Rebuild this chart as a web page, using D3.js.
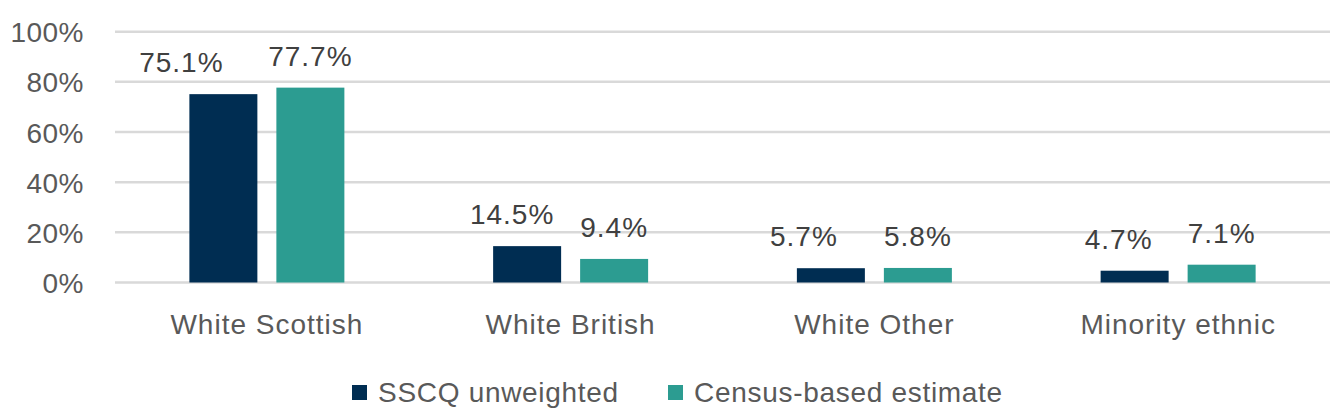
<!DOCTYPE html>
<html><head><meta charset="utf-8">
<script src="https://cdn.jsdelivr.net/npm/d3@7"></script>
<style>body{margin:0;background:#fff}svg{display:block}text{font-family:"Liberation Sans",Arial,sans-serif}</style>
</head><body><div id="chart"></div>
<script>
const categories = ["White Scottish", "White British", "White Other", "Minority ethnic"];
const seriesNames = ["SSCQ unweighted", "Census-based estimate"];
const sscq = [75.1, 14.5, 5.7, 4.7];
const census = [77.7, 9.4, 5.8, 7.1];
const yTicks = [0, 20, 40, 60, 80, 100];
const colors = ["#002D52", "#2C9C91"];
// horizontal nudges of data labels (px), as placed in the original
const labelNudge = [[-42, -15, -27, -16], [0, 0, 0, 0]];

const W = 1344, H = 418;
const m = {left: 115, right: 14};
const svg = d3.select("#chart").append("svg").attr("width", W).attr("height", H);
const x = d3.scaleBand().domain(categories).range([m.left, W - m.right]);
const y = d3.scaleLinear().domain([0, 100]).range([282.5, 31.7]);

svg.append("g").selectAll("line").data(yTicks).join("line")
  .attr("x1", m.left).attr("x2", W - m.right)
  .attr("y1", d => y(d)).attr("y2", d => y(d))
  .attr("stroke", "#d9d9d9").attr("stroke-width", 2.5);

const yAxis = d3.axisLeft(y).tickValues(yTicks).tickFormat(d => d + "%").tickSize(0).tickPadding(0);
const ga = svg.append("g").attr("transform", `translate(84,0)`).call(yAxis);
ga.select(".domain").remove();
ga.selectAll("text").attr("font-size", 28).attr("fill", "#595959").attr("letter-spacing", 0.5)
  .attr("font-family", "Liberation Sans, Arial, sans-serif").attr("dy", "0.36em");

const xAxis = d3.axisBottom(x).tickSize(0).tickPadding(0);
const gx = svg.append("g").attr("transform", `translate(0,334)`).call(xAxis);
gx.select(".domain").remove();
gx.selectAll("text").attr("font-size", 28).attr("fill", "#595959").attr("letter-spacing", 1)
  .attr("font-family", "Liberation Sans, Arial, sans-serif").attr("dy", "0");

const barW = 68, gap = 19;
const series = [sscq, census];
series.forEach((vals, si) => {
  const g = svg.append("g");
  const xpos = (c) => x(c) + x.bandwidth() / 2 - (barW + gap / 2) + si * (barW + gap);
  g.selectAll("rect").data(categories).join("rect")
    .attr("x", (c) => xpos(c))
    .attr("width", barW)
    .attr("y", (c, i) => y(vals[i]))
    .attr("height", (c, i) => y(0) - y(vals[i]))
    .attr("fill", colors[si]);
  g.selectAll("text").data(categories).join("text")
    .attr("x", (c, i) => xpos(c) + barW / 2 + labelNudge[si][i])
    .attr("y", (c, i) => y(vals[i]) - 22)
    .attr("text-anchor", "middle")
    .attr("font-size", 28).attr("fill", "#404040").attr("letter-spacing", 1)
    .text((c, i) => vals[i].toFixed(1) + "%");
});

const legend = svg.append("g");
const legX = [352, 668];
seriesNames.forEach((n, i) => {
  legend.append("rect").attr("x", legX[i]).attr("y", 385).attr("width", 15).attr("height", 15).attr("fill", colors[i]);
  legend.append("text").attr("x", legX[i] + 26).attr("y", 402).attr("font-size", 28).attr("fill", "#595959")
    .attr("letter-spacing", 0.7).text(n);
});
</script></body></html>
